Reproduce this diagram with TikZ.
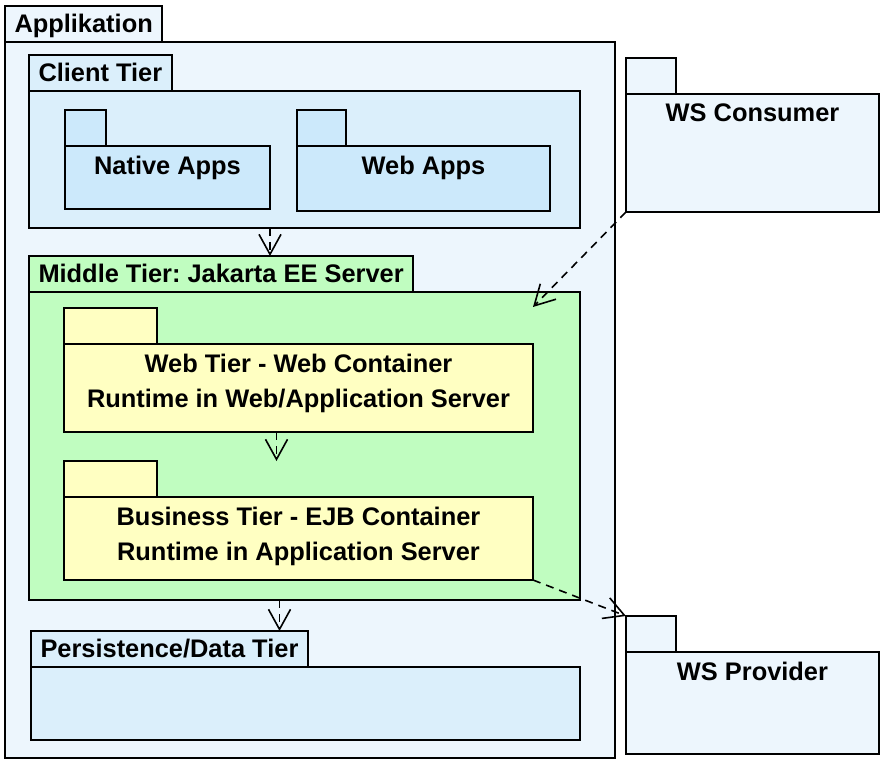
\documentclass[tikz,border=0pt]{standalone}
\usepackage{fontspec}
\setmainfont{Liberation Sans}
\usetikzlibrary{arrows.meta}
\definecolor{appfill}{HTML}{EDF6FD}
\definecolor{clientfill}{HTML}{DBEFFB}
\definecolor{appsfill}{HTML}{CCE9FB}
\definecolor{midfill}{HTML}{C0FDC0}
\definecolor{webfill}{HTML}{FFFFC2}
\frenchspacing
\begin{document}
\begin{tikzpicture}[x=1pt,y=-1pt,
	pkg/.style={draw,line width=1.6pt,outer sep=0pt,inner sep=0pt,anchor=north west},
	pkgtab/.style={draw,line width=1.6pt,outer sep=0pt,anchor=south west,inner xsep=9.5pt,inner ysep=9.5pt,text height=17pt,text depth=0pt,font=\bfseries\fontsize{25.4}{35}\selectfont},
	pkglbl/.style={anchor=north,inner sep=0pt,align=center,font=\bfseries\fontsize{25.4}{35}\selectfont},
	dep/.style={line width=1.6pt,dash pattern=on 8pt off 6pt,-{Straight Barb[length=20pt,width=22pt]}}]
	\useasboundingbox (0,0) rectangle (887,762);
	\node[pkg,fill=appfill,minimum width=610pt,minimum height=716pt] (app) at (5,42) {};
	\node[pkgtab,fill=appfill] (apptab) at (app.north west) {Applikation};
	\node[pkg,fill=clientfill,minimum width=551pt,minimum height=137pt] (client) at (29,91) {};
	\node[pkgtab,fill=clientfill] (clienttab) at (client.north west) {Client Tier};
	\node[pkg,fill=appsfill,minimum width=205pt,minimum height=63pt] (native) at (65,146) {};
	\node[pkgtab,fill=appsfill,minimum width=41pt] (nativetab) at (native.north west) {};
	\node[pkglbl] at ([yshift=-9.5pt]native.north) {Native Apps};
	\node[pkg,fill=appsfill,minimum width=253pt,minimum height=65pt] (webapps) at (297,146) {};
	\node[pkgtab,fill=appsfill,minimum width=49pt] (webappstab) at (webapps.north west) {};
	\node[pkglbl] at ([yshift=-9.5pt]webapps.north) {Web Apps};
	\node[pkg,fill=midfill,minimum width=551pt,minimum height=308pt] (middle) at (29,292) {};
	\node[pkgtab,fill=midfill] (middletab) at (middle.north west) {Middle Tier: Jakarta EE Server};
	\node[pkg,fill=webfill,minimum width=469pt,minimum height=88pt] (web) at (64,344) {};
	\node[pkgtab,fill=webfill,minimum width=93pt] (webtab) at (web.north west) {};
	\node[pkglbl] at ([yshift=-9.5pt]web.north) {Web Tier - Web Container\\Runtime in Web/Application Server};
	\node[pkg,fill=webfill,minimum width=469pt,minimum height=83pt] (business) at (64,497) {};
	\node[pkgtab,fill=webfill,minimum width=93pt] (businesstab) at (business.north west) {};
	\node[pkglbl] at ([yshift=-9.5pt]business.north) {Business Tier - EJB Container\\Runtime in Application Server};
	\node[pkg,fill=clientfill,minimum width=549pt,minimum height=73pt] (persist) at (31,667) {};
	\node[pkgtab,fill=clientfill] (persisttab) at (persist.north west) {Persistence/Data Tier};
	\node[pkg,fill=appfill,minimum width=253pt,minimum height=118pt] (consumer) at (626,94) {};
	\node[pkgtab,fill=appfill,minimum width=50pt] (consumertab) at (consumer.north west) {};
	\node[pkglbl] at ([yshift=-9.5pt]consumer.north) {WS Consumer};
	\node[pkg,fill=appfill,minimum width=253pt,minimum height=102pt] (provider) at (626,652) {};
	\node[pkgtab,fill=appfill,minimum width=50pt] (providertab) at (provider.north west) {};
	\node[pkglbl] at ([yshift=-9.5pt]provider.north) {WS Provider};
	\draw[dep] (client.south -| native.east) -- (middletab.north -| native.east);
	\draw[dep] ([xshift=-22pt]web.south) -- ([xshift=-22pt]web.south |- businesstab.north);
	\draw[dep] ([xshift=-25pt]middle.south) -- ([xshift=-25pt]middle.south |- persisttab.north);
	\draw[dep] (consumer.south west) -- ([xshift=-47pt,yshift=-15pt]middle.north east);
	\draw[dep] (business.south east) -- (providertab.north west);
\end{tikzpicture}
\end{document}
